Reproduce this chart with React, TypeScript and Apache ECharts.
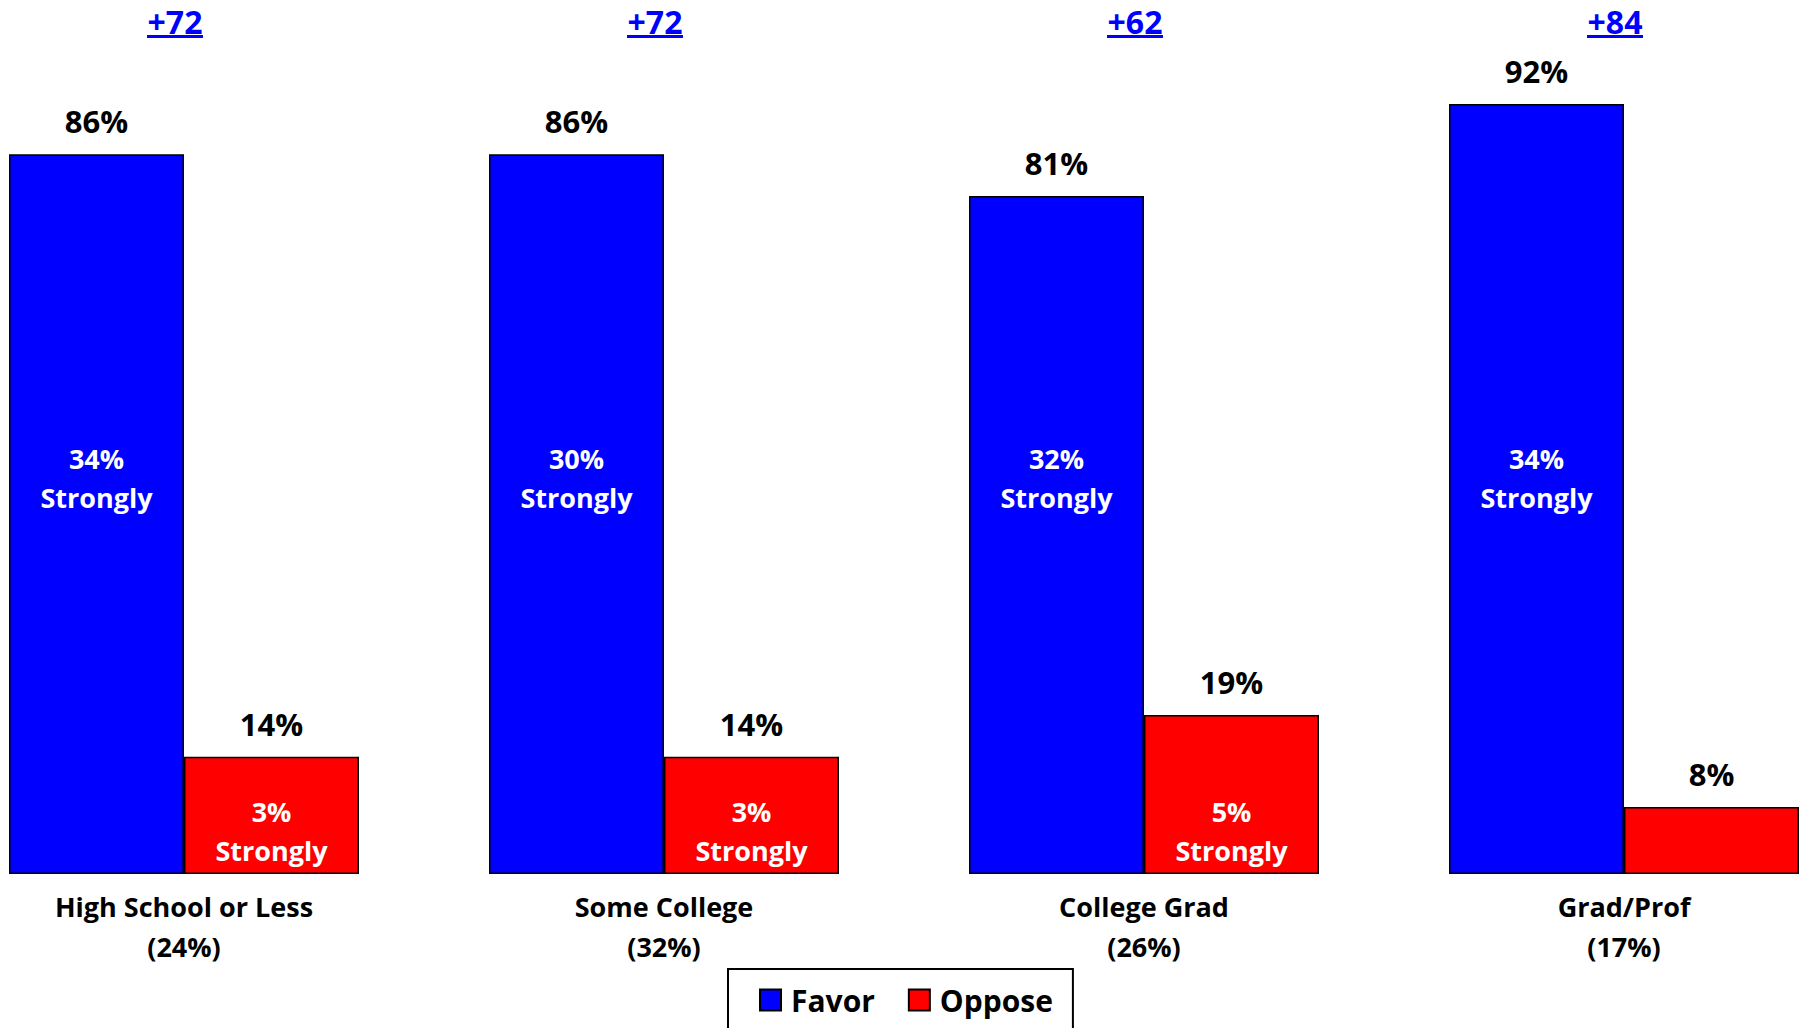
import React, { useEffect, useRef } from "react";
import * as echarts from "echarts";

const categories = ["High School or Less", "Some College", "College Grad", "Grad/Prof"];
const shares = ["24%", "32%", "26%", "17%"];
const favor = [86, 86, 81, 92];
const oppose = [14, 14, 19, 8];
const favorStrongly: (number | null)[] = [34, 30, 32, 34];
const opposeStrongly: (number | null)[] = [3, 3, 5, null];

const FONT = "'Open Sans', Lato, sans-serif";
const BLUE = "#0000FF";
const RED = "#FF0000";
const BAR_W = 175;
const FAVOR_LABEL_AT = 47.3; // value-axis position of the "Strongly" labels
const OPPOSE_LABEL_AT = 5.1;

export default function App() {
  const ref = useRef<HTMLDivElement>(null);
  useEffect(() => {
    if (!ref.current) return;
    const chart = echarts.init(ref.current, null, { renderer: "svg" });
    const margins = favor.map((f, i) => f - oppose[i]);
    const valueLabel = {
      show: true,
      position: "top",
      distance: 17,
      formatter: "{c}%",
      fontFamily: FONT,
      fontWeight: "bold",
      fontSize: 31,
      lineHeight: 32,
      color: "#000",
    };
    const innerText = (text: string, x: number, y: number) => ({
      type: "text",
      x,
      y,
      style: {
        text,
        fill: "#fff",
        fontFamily: FONT,
        fontWeight: "bold",
        fontSize: 27,
        lineHeight: 39,
        align: "center",
        verticalAlign: "middle",
      },
    });
    const option: any = {
      animation: false,
      backgroundColor: "#ffffff",
      grid: {
        left: -56,
        right: -58,
        top: 37,
        bottom: 154,
        containLabel: false,
        outerBoundsMode: "none",
      },
      legend: {
        data: ["Favor", "Oppose"],
        left: 728,
        top: 969,
        orient: "horizontal",
        icon: "rect",
        itemWidth: 21,
        itemHeight: 21,
        itemGap: 33,
        padding: [16, 20, 40, 31],
        borderColor: "#000",
        borderWidth: 2,
        textStyle: {
          fontFamily: FONT,
          fontWeight: "bold",
          fontSize: 30,
          lineHeight: 30,
          color: "#000",
          padding: [0, 0, 0, 5],
        },
      },
      xAxis: {
        type: "category",
        data: categories,
        axisLine: { show: false },
        axisTick: { show: false },
        axisLabel: {
          margin: 12,
          fontFamily: FONT,
          fontWeight: "bold",
          fontSize: 27,
          lineHeight: 40,
          color: "#000",
          formatter: (v: string) => {
            const i = categories.indexOf(v);
            return `${v}\n(${shares[i]})`;
          },
        },
      },
      yAxis: {
        type: "value",
        min: 0,
        max: 100,
        show: false,
        splitLine: { show: false },
      },
      series: [
        {
          name: "Favor",
          type: "bar",
          data: favor,
          barWidth: BAR_W,
          barGap: "0%",
          itemStyle: { color: BLUE, borderColor: "#000", borderWidth: 1.5 },
          label: valueLabel,
        },
        {
          name: "Oppose",
          type: "bar",
          data: oppose,
          barWidth: BAR_W,
          barGap: "0%",
          itemStyle: { color: RED, borderColor: "#000", borderWidth: 1.5 },
          label: valueLabel,
        },
        {
          name: "Strongly",
          type: "custom",
          z: 5,
          silent: true,
          encode: { x: 0, y: 1 },
          data: categories.map((_, i) => [i, 0]),
          renderItem: (params: any, api: any) => {
            const i = params.dataIndex;
            const cx = api.coord([i, 0])[0];
            const children: any[] = [];
            const fs = favorStrongly[i];
            const os = opposeStrongly[i];
            if (fs != null) {
              children.push(
                innerText(`${fs}%\nStrongly`, cx - BAR_W / 2, api.coord([i, FAVOR_LABEL_AT])[1])
              );
            }
            if (os != null) {
              children.push(
                innerText(`${os}%\nStrongly`, cx + BAR_W / 2, api.coord([i, OPPOSE_LABEL_AT])[1])
              );
            }
            return { type: "group", children };
          },
        },
        {
          name: "Margin",
          type: "custom",
          z: 5,
          silent: true,
          encode: { x: 0, y: 1 },
          data: categories.map((_, i) => [i, 100]),
          renderItem: (params: any, api: any) => {
            const i = params.dataIndex;
            const [cx, cy] = api.coord([i, 100]);
            const m = margins[i];
            return {
              type: "group",
              children: [
                {
                  type: "text",
                  x: cx - 9,
                  y: cy - 16,
                  style: {
                    text: `+${m}`,
                    fill: BLUE,
                    fontFamily: FONT,
                    fontWeight: "bold",
                    fontSize: 32,
                    lineHeight: 32,
                    align: "center",
                    verticalAlign: "middle",
                  },
                },
                {
                  type: "line",
                  shape: { x1: cx - 37, y1: cy - 0.5, x2: cx + 19, y2: cy - 0.5 },
                  style: { stroke: BLUE, lineWidth: 3 },
                },
              ],
            };
          },
        },
      ],
    };
    chart.setOption(option);
    return () => chart.dispose();
  }, []);
  return (
    <div
      ref={ref}
      style={{ position: "absolute", left: 0, top: 0, width: 1806, height: 1028 }}
    />
  );
}
